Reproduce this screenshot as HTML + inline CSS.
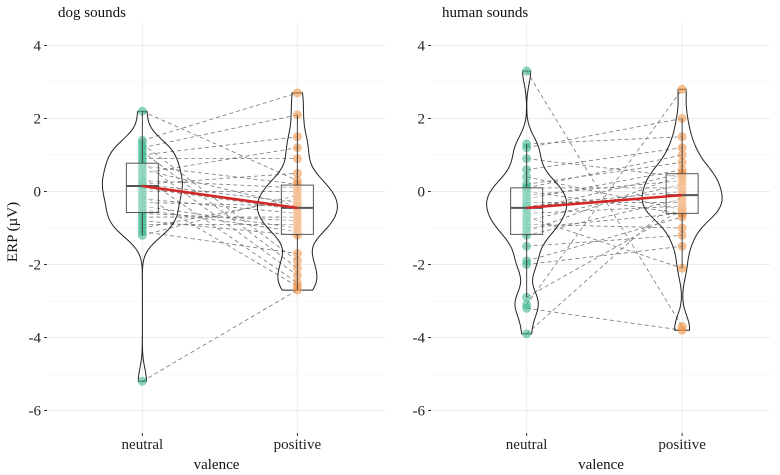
<!DOCTYPE html>
<html><head><meta charset="utf-8"><style>
body{margin:0;background:#fff}
svg{display:block;font-family:"Liberation Serif",serif}
</style></head><body>
<svg id="c" width="780" height="475"></svg>
<script>
const categories=["neutral","positive"];
const panels=["dog sounds","human sounds"];
const yTicks=[4,2,0,-2,-4,-6];
const dogNeutral=[2.2,1.4,1.3,1.2,1.1,1.0,0.9,0.8,0.7,0.6,0.5,0.4,0.3,0.2,0.2,0.1,0.0,-0.1,-0.2,-0.3,-0.4,-0.5,-0.6,-0.7,-0.8,-0.9,-1.0,-1.1,-1.2,-5.2];
const dogPositive=[0.3,2.7,-1.9,2.1,-2.1,1.5,0.9,-2.3,0.2,-0.4,1.2,-2.5,0.1,-0.3,0.5,-0.5,0.0,-2.6,-0.6,-0.4,-1.0,-1.1,-0.8,-0.7,-1.2,-0.9,-0.2,-1.7,-0.1,-2.7];
const humanNeutral=[3.3,1.3,1.2,0.9,0.6,0.4,0.2,0.1,0.1,0.0,-0.1,-0.2,-0.3,-0.4,-0.4,-0.5,-0.6,-0.7,-0.8,-0.9,-1.0,-1.1,-1.2,-1.5,-1.9,-2.0,-2.9,-3.1,-3.2,-3.9];
const humanPositive=[-3.7,1.5,2.0,0.4,1.2,-0.5,0.8,0.1,1.0,-0.6,0.3,0.6,-0.3,0.0,-0.1,0.5,-0.4,-2.1,0.2,-1.0,-0.6,0.45,-0.2,-1.2,-0.7,-1.5,-0.5,2.8,-3.8,-0.1];
const data=[[dogNeutral,dogPositive],[humanNeutral,humanPositive]];
const colors=["#3fb892","#f0954a"];
const NS="http://www.w3.org/2000/svg";
const svg=document.getElementById('c');
function mk(t,a,p){const e=document.createElementNS(NS,t);for(const k in a)e.setAttribute(k,a[k]);(p||svg).appendChild(e);return e;}
const plotTop=23,plotBot=433;
function y(v){return 191.5-v*36.5;}
const panelX=[[48,385],[432,770]];
function x(p,i){const [a,b]=panelX[p];return a+(b-a)*(0.28+0.46*i);}
function quant(arr,q){const s=[...arr].sort((a,b)=>a-b);const pos=(s.length-1)*q;const lo=Math.floor(pos);return s[lo]+(s[Math.min(lo+1,s.length-1)]-s[lo])*(pos-lo);}
function kde(arr,v,bw){let s=0;for(const d of arr){const z=(v-d)/bw;s+=Math.exp(-0.5*z*z);}return s/arr.length;}
panels.forEach((title,p)=>{
  const g=mk('g',{});
  
  
  const [a,b]=panelX[p];
  for(let v=-7;v<=5;v++){
    if(y(v)<plotTop||y(v)>plotBot)continue;
    const l=mk('line',{x1:a,x2:b,y1:y(v),y2:y(v),stroke:v%2===0?'#ebebeb':'#f4f4f4','stroke-width':v%2===0?1:0.7},g);
    
    
  }
  categories.forEach((c,i)=>{
    const l=mk('line',{x1:x(p,i),x2:x(p,i),y1:plotTop,y2:plotBot,stroke:'#ebebeb'},g);
    
    
    const t=mk('text',{x:x(p,i),y:449,'text-anchor':'middle','font-size':15,fill:'#222'},g);t.textContent=c;
    
    
    mk('line',{x1:x(p,i),x2:x(p,i),y1:433,y2:436,stroke:'#333'},g);
  });
  yTicks.forEach(v=>{
    const t=mk('text',{x:a-7,y:y(v)+5,'text-anchor':'end','font-size':15,fill:'#222'},g);t.textContent=v===0?'0':(v<0?'-'+(-v):v);
    
    
    mk('line',{x1:a-4,x2:a-1,y1:y(v),y2:y(v),stroke:'#333'},g);
  });
  const tt=mk('text',{x:a+10,y:17,'font-size':15,fill:'#111'},g);tt.textContent=title;
  
  
  const xl=mk('text',{x:(a+b)/2,y:469,'text-anchor':'middle','font-size':15,fill:'#111'},g);xl.textContent='valence';
  
  
  const [n,ps]=data[p];
  n.forEach((v,k)=>{
    const l=mk('line',{x1:x(p,0),y1:y(v),x2:x(p,1),y2:y(ps[k]),stroke:'#777','stroke-width':0.8,'stroke-dasharray':'4,3'},g);
    
    
  });
  [n,ps].forEach((arr,i)=>{
    const cx=x(p,i);
    const lo=Math.min(...arr),hi=Math.max(...arr);
    let pts=[],mx=0;const steps=80;
    for(let s=0;s<=steps;s++){const v=lo+(hi-lo)*s/steps;const d=kde(arr,v,0.35);pts.push([v,d]);mx=Math.max(mx,d);}
    const W=40;
    let dstr='M'+pts.map(([v,d])=>(cx+W*d/mx).toFixed(1)+','+y(v).toFixed(1)).join('L')+'L'+pts.slice().reverse().map(([v,d])=>(cx-W*d/mx).toFixed(1)+','+y(v).toFixed(1)).join('L')+'Z';
    const vi=mk('path',{d:dstr,fill:'none',stroke:'#222','stroke-width':1},g);
    
    
    arr.forEach(v=>{
      const c=mk('circle',{cx:cx,cy:y(v),r:4.5,fill:colors[i],'fill-opacity':0.6},g);
      
      
    });
    const q1=quant(arr,0.25),q2=quant(arr,0.5),q3=quant(arr,0.75),iq=q3-q1;
    const wlo=Math.min(...arr.filter(v=>v>=q1-1.5*iq)),whi=Math.max(...arr.filter(v=>v<=q3+1.5*iq));
    const bx=mk('rect',{x:cx-16,y:y(q3),width:32,height:y(q1)-y(q3),fill:'#fff','fill-opacity':0.35,stroke:'#555','stroke-width':1},g);
    
    
    mk('line',{x1:cx-16,x2:cx+16,y1:y(q2),y2:y(q2),stroke:'#555','stroke-width':2},g);
    mk('line',{x1:cx,x2:cx,y1:y(whi),y2:y(q3),stroke:'#444'},g);
    mk('line',{x1:cx,x2:cx,y1:y(q1),y2:y(wlo),stroke:'#444'},g);
  });
  const m=mk('line',{x1:x(p,0),y1:y(quant(n,0.5)),x2:x(p,1),y2:y(quant(ps,0.5)),stroke:'#d62728','stroke-width':2.5},g);
  
  
});
const yl=mk('text',{x:0,y:0,transform:'translate(17,232) rotate(-90)','text-anchor':'middle','font-size':15,fill:'#111'});
yl.textContent='ERP (µV)';


</script>
</body></html>
